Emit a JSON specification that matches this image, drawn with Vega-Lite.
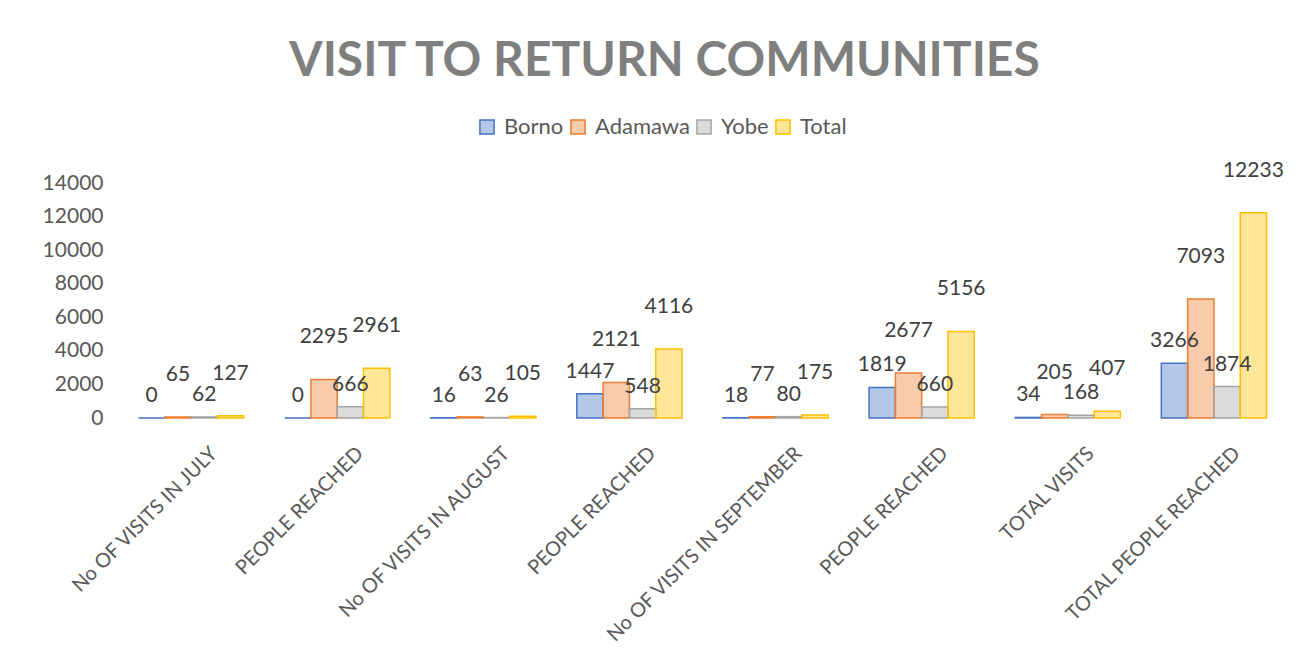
{
  "$schema": "https://vega.github.io/schema/vega-lite/v6.json",
  "width": 1169,
  "height": 235,
  "autosize": {"type": "none"},
  "padding": {"left": 118, "top": 183, "right": 27, "bottom": 250},
  "background": "white",
  "config": {"view": {"stroke": null}},
  "title": {
    "text": "VISIT TO RETURN COMMUNITIES",
    "font": "Lato",
    "fontSize": 48,
    "fontWeight": "bold",
    "color": "#7F7F7F",
    "anchor": "middle",
    "frame": "bounds",
    "offset": 30
  },
  "data": {
    "values": [
      {"idx": 1, "series": "Borno", "value": 0},
      {"idx": 1, "series": "Adamawa", "value": 65},
      {"idx": 1, "series": "Yobe", "value": 62},
      {"idx": 1, "series": "Total", "value": 127},
      {"idx": 2, "series": "Borno", "value": 0},
      {"idx": 2, "series": "Adamawa", "value": 2295},
      {"idx": 2, "series": "Yobe", "value": 666},
      {"idx": 2, "series": "Total", "value": 2961},
      {"idx": 3, "series": "Borno", "value": 16},
      {"idx": 3, "series": "Adamawa", "value": 63},
      {"idx": 3, "series": "Yobe", "value": 26},
      {"idx": 3, "series": "Total", "value": 105},
      {"idx": 4, "series": "Borno", "value": 1447},
      {"idx": 4, "series": "Adamawa", "value": 2121},
      {"idx": 4, "series": "Yobe", "value": 548},
      {"idx": 4, "series": "Total", "value": 4116},
      {"idx": 5, "series": "Borno", "value": 18},
      {"idx": 5, "series": "Adamawa", "value": 77},
      {"idx": 5, "series": "Yobe", "value": 80},
      {"idx": 5, "series": "Total", "value": 175},
      {"idx": 6, "series": "Borno", "value": 1819},
      {"idx": 6, "series": "Adamawa", "value": 2677},
      {"idx": 6, "series": "Yobe", "value": 660},
      {"idx": 6, "series": "Total", "value": 5156},
      {"idx": 7, "series": "Borno", "value": 34},
      {"idx": 7, "series": "Adamawa", "value": 205},
      {"idx": 7, "series": "Yobe", "value": 168},
      {"idx": 7, "series": "Total", "value": 407},
      {"idx": 8, "series": "Borno", "value": 3266},
      {"idx": 8, "series": "Adamawa", "value": 7093},
      {"idx": 8, "series": "Yobe", "value": 1874},
      {"idx": 8, "series": "Total", "value": 12233}
    ]
  },
  "encoding": {
    "x": {
      "field": "idx",
      "type": "ordinal",
      "scale": {"paddingInner": 0.28, "paddingOuter": 0.14},
      "axis": {
        "title": null,
        "labelAngle": -45,
        "labelFont": "Lato",
        "labelFontSize": 20,
        "labelColor": "#595959",
        "labelPadding": 25,
        "labelOffset": 16,
        "labelLimit": 400,
        "domain": false,
        "ticks": false,
        "labelExpr": "['No OF VISITS IN JULY','PEOPLE REACHED','No OF VISITS IN AUGUST','PEOPLE REACHED','No OF VISITS IN SEPTEMBER','PEOPLE REACHED','TOTAL VISITS','TOTAL PEOPLE REACHED'][datum.value - 1]"
      }
    },
    "xOffset": {"field": "series", "type": "nominal", "sort": ["Borno", "Adamawa", "Yobe", "Total"]},
    "y": {
      "field": "value",
      "type": "quantitative",
      "scale": {"domain": [0, 14000]},
      "axis": {
        "title": null,
        "values": [0, 2000, 4000, 6000, 8000, 10000, 12000, 14000],
        "labelFont": "Lato",
        "labelFontSize": 21,
        "labelColor": "#595959",
        "labelPadding": 15,
        "domain": false,
        "ticks": false,
        "grid": false,
        "format": "d"
      }
    }
  },
  "layer": [
    {
      "mark": {"type": "bar", "fillOpacity": 0.4, "strokeWidth": 1.5},
      "encoding": {
        "fill": {
          "field": "series",
          "type": "nominal",
          "scale": {"domain": ["Borno", "Adamawa", "Yobe", "Total"], "range": ["#4472C4", "#ED7D31", "#A5A5A5", "#FFC000"]},
          "legend": {
            "title": null,
            "orient": "none",
            "legendX": 358,
            "legendY": -67,
            "direction": "horizontal",
            "symbolType": "square",
            "symbolSize": 200,
            "symbolStrokeWidth": 1.5,
            "labelFont": "Lato",
            "labelFontSize": 22,
            "labelColor": "#595959",
            "columnPadding": 3,
            "labelOffset": 6,
            "encode": {"symbols": {"update": {"fillOpacity": {"value": 0.4}}}}
          }
        },
        "stroke": {
          "field": "series",
          "type": "nominal",
          "scale": {"domain": ["Borno", "Adamawa", "Yobe", "Total"], "range": ["#4472C4", "#ED7D31", "#A5A5A5", "#FFC000"]},
          "legend": {
            "title": null,
            "orient": "none",
            "legendX": 358,
            "legendY": -67,
            "direction": "horizontal",
            "symbolType": "square",
            "symbolSize": 200,
            "symbolStrokeWidth": 1.5,
            "labelFont": "Lato",
            "labelFontSize": 22,
            "labelColor": "#595959",
            "columnPadding": 3,
            "labelOffset": 6,
            "encode": {"symbols": {"update": {"fillOpacity": {"value": 0.4}}}}
          }
        }
      }
    },
    {
      "transform": [{"filter": "datum.series === 'Borno' || datum.series === 'Yobe'"}],
      "mark": {"type": "text", "baseline": "bottom", "dy": -12, "font": "Lato", "fontSize": 21, "color": "#404040"},
      "encoding": {"text": {"field": "value", "type": "quantitative", "format": "d"}}
    },
    {
      "transform": [{"filter": "datum.series === 'Adamawa' || datum.series === 'Total'"}],
      "mark": {"type": "text", "baseline": "bottom", "dy": -32, "font": "Lato", "fontSize": 21, "color": "#404040"},
      "encoding": {"text": {"field": "value", "type": "quantitative", "format": "d"}}
    }
  ]
}
